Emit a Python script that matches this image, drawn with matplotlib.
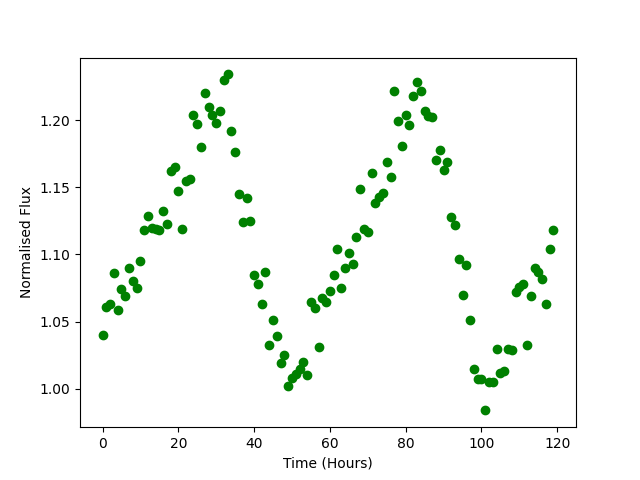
import matplotlib
matplotlib.use("Agg")
import matplotlib.pyplot as plt
import numpy as np

time_hours = np.arange(120)
flux = [
    1.040, 1.061, 1.063, 1.086, 1.059, 1.074, 1.069, 1.090, 1.080, 1.075,
    1.095, 1.118, 1.129, 1.120, 1.119, 1.118, 1.132, 1.123, 1.162, 1.165,
    1.147, 1.119, 1.155, 1.156, 1.204, 1.197, 1.180, 1.220, 1.210, 1.204,
    1.198, 1.207, 1.230, 1.234, 1.192, 1.176, 1.145, 1.124, 1.142, 1.125,
    1.085, 1.078, 1.063, 1.087, 1.033, 1.051, 1.039, 1.019, 1.025, 1.002,
    1.008, 1.011, 1.015, 1.020, 1.010, 1.065, 1.060, 1.031, 1.068, 1.065,
    1.073, 1.085, 1.104, 1.075, 1.090, 1.101, 1.093, 1.113, 1.149, 1.119,
    1.117, 1.161, 1.138, 1.143, 1.146, 1.169, 1.158, 1.222, 1.199, 1.181,
    1.204, 1.196, 1.218, 1.228, 1.222, 1.207, 1.203, 1.202, 1.170, 1.178,
    1.163, 1.169, 1.128, 1.122, 1.097, 1.070, 1.092, 1.051, 1.015, 1.007,
    1.007, 0.984, 1.005, 1.005, 1.030, 1.012, 1.013, 1.030, 1.029, 1.072,
    1.076, 1.078, 1.033, 1.069, 1.090, 1.087, 1.082, 1.063, 1.104, 1.118,
]

fig, ax = plt.subplots(figsize=(6.4, 4.8), dpi=100)
ax.plot(time_hours, flux, 'o', color='green')
ax.set_xlabel('Time (Hours)')
ax.set_ylabel('Normalised Flux')
fig.savefig('out.png')
